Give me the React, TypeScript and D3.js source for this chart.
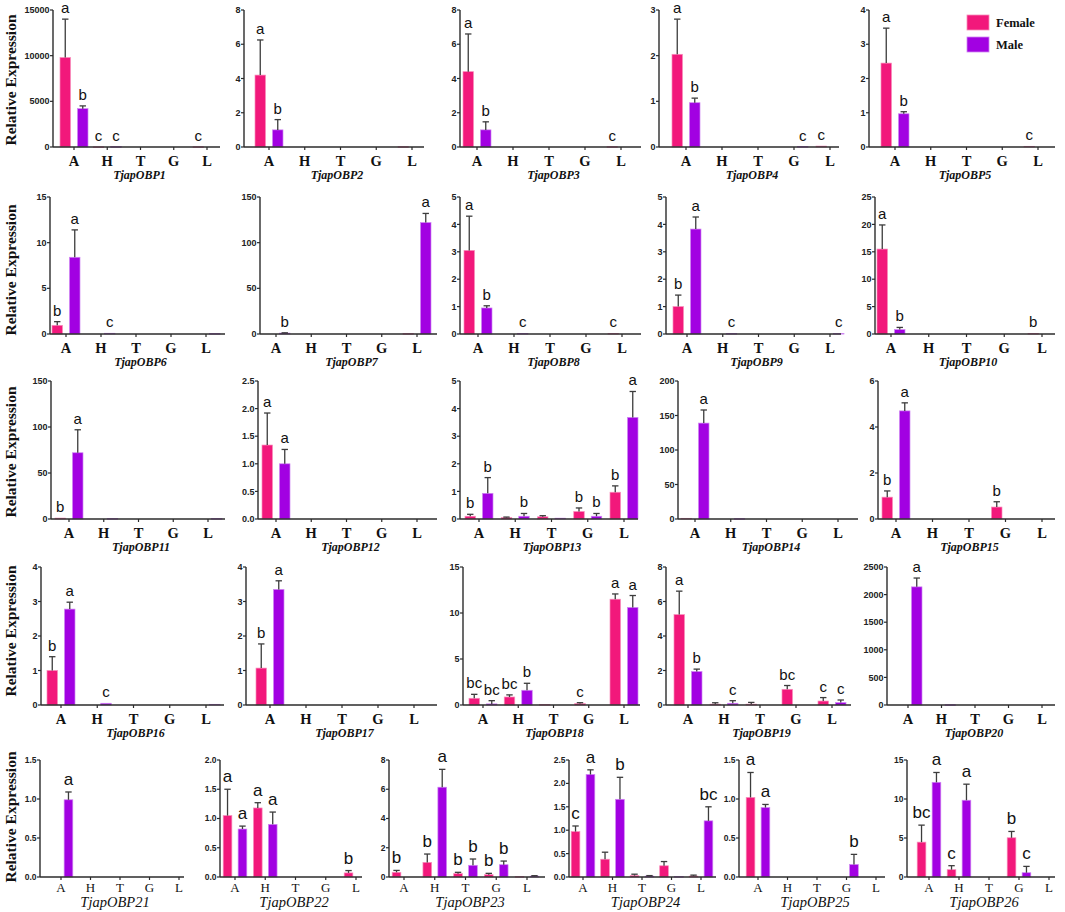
import React from 'react';
import * as d3 from 'd3';

// --- data ---
const TISSUES = ['A', 'H', 'T', 'G', 'L'];
const SEXES = ['Female', 'Male'];

const GENES = [
  'TjapOBP1', 'TjapOBP2', 'TjapOBP3', 'TjapOBP4', 'TjapOBP5',
  'TjapOBP6', 'TjapOBP7', 'TjapOBP8', 'TjapOBP9', 'TjapOBP10',
  'TjapOBP11', 'TjapOBP12', 'TjapOBP13', 'TjapOBP14', 'TjapOBP15',
  'TjapOBP16', 'TjapOBP17', 'TjapOBP18', 'TjapOBP19', 'TjapOBP20',
  'TjapOBP21', 'TjapOBP22', 'TjapOBP23', 'TjapOBP24', 'TjapOBP25', 'TjapOBP26',
];

const Y_TICKS = [
  [0, 5000, 10000, 15000], [0, 2, 4, 6, 8], [0, 2, 4, 6, 8], [0, 1, 2, 3], [0, 1, 2, 3, 4],
  [0, 5, 10, 15], [0, 50, 100, 150], [0, 1, 2, 3, 4, 5], [0, 1, 2, 3, 4, 5], [0, 5, 10, 15, 20, 25],
  [0, 50, 100, 150], [0, 0.5, 1, 1.5, 2, 2.5], [0, 1, 2, 3, 4, 5], [0, 50, 100, 150, 200], [0, 2, 4, 6],
  [0, 1, 2, 3, 4], [0, 1, 2, 3, 4], [0, 5, 10, 15], [0, 2, 4, 6, 8], [0, 500, 1000, 1500, 2000, 2500],
  [0, 0.5, 1, 1.5], [0, 0.5, 1, 1.5, 2], [0, 2, 4, 6, 8], [0, 0.5, 1, 1.5, 2, 2.5], [0, 0.5, 1, 1.5], [0, 5, 10, 15],
];

// values per tissue A, H, T, G, L
const FEMALE = [
  [9800, 20, 0, 0, 30], [4.2, 0, 0, 0, 0.02], [4.4, 0, 0, 0, 0.02], [2.03, 0, 0, 0, 0.02], [2.45, 0, 0, 0, 0.02],
  [0.95, 0, 0, 0, 0], [0, 0, 0, 0, 0.5], [3.05, 0, 0, 0, 0.02], [1.0, 0, 0, 0, 0], [15.5, 0, 0, 0, 0.1],
  [1, 0, 0, 0, 0], [1.34, 0, 0, 0, 0], [0.1, 0.05, 0.08, 0.27, 0.97], [1, 0, 0, 0, 0], [0.95, 0, 0, 0.52, 0],
  [1.0, 0, 0, 0, 0], [1.07, 0, 0, 0, 0], [0.73, 0.87, 0.05, 0.15, 11.5], [5.24, 0.05, 0.05, 0.91, 0.23], [0, 0, 0, 0, 0],
  [0, 0, 0, 0, 0], [1.05, 1.18, 0, 0, 0.07], [0.32, 1.0, 0.23, 0.16, 0.03], [0.97, 0.38, 0.03, 0.24, 0.02], [1.02, 0, 0, 0, 0], [4.47, 0.94, 0, 5.03, 0],
];
const FEMALE_SD = [
  [4200, 0, 0, 0, 0], [2.05, 0, 0, 0, 0], [2.2, 0, 0, 0, 0], [0.77, 0, 0, 0, 0], [1.02, 0, 0, 0, 0],
  [0.4, 0, 0, 0, 0], [0, 0, 0, 0, 0], [1.25, 0, 0, 0, 0], [0.42, 0, 0, 0, 0], [4.4, 0, 0, 0, 0],
  [0, 0, 0, 0, 0], [0.58, 0, 0, 0, 0], [0.07, 0.02, 0.04, 0.13, 0.23], [0, 0, 0, 0, 0], [0.27, 0, 0, 0.23, 0],
  [0.4, 0, 0, 0, 0], [0.7, 0, 0, 0, 0], [0.43, 0.23, 0, 0.1, 0.57], [1.36, 0.08, 0.1, 0.22, 0.2], [0, 0, 0, 0, 0],
  [0, 0, 0, 0, 0], [0.45, 0.09, 0, 0, 0.04], [0.13, 0.57, 0.09, 0.09, 0], [0.12, 0.15, 0.03, 0.09, 0.02], [0.32, 0, 0, 0, 0], [2.18, 0.51, 0, 0.81, 0],
];
const MALE = [
  [4200, 40, 0, 0, 0], [1.0, 0, 0, 0, 0], [1.0, 0, 0, 0, 0], [0.97, 0, 0, 0.01, 0], [0.97, 0, 0, 0, 0],
  [8.4, 0.08, 0, 0, 0.05], [1.0, 0, 0, 0, 122], [0.95, 0.02, 0, 0, 0], [3.83, 0.02, 0, 0, 0.02], [0.8, 0, 0, 0, 0],
  [72, 0.5, 0, 0, 0.5], [1.0, 0, 0, 0, 0], [0.93, 0.1, 0.03, 0.1, 3.68], [139, 0.5, 0, 0, 0], [4.7, 0, 0, 0, 0],
  [2.78, 0.05, 0, 0, 0.02], [3.35, 0, 0, 0, 0], [0.12, 1.6, 0, 0, 10.6], [1.94, 0.1, 0, 0, 0.14], [2140, 5, 0, 0, 0],
  [0.99, 0, 0, 0, 0], [0.82, 0.9, 0, 0, 0], [0, 6.14, 0.8, 0.84, 0.06], [2.19, 1.66, 0.02, 0.01, 1.2], [0.89, 0, 0, 0.16, 0], [12.14, 9.84, 0, 0.55, 0],
];
const MALE_SD = [
  [300, 0, 0, 0, 0], [0.6, 0, 0, 0, 0], [0.47, 0, 0, 0, 0], [0.1, 0, 0, 0, 0], [0.06, 0, 0, 0, 0],
  [3.0, 0, 0, 0, 0], [0.3, 0, 0, 0, 10], [0.08, 0, 0, 0, 0], [0.44, 0, 0, 0, 0], [0.4, 0, 0, 0, 0],
  [25, 0, 0, 0, 0], [0.26, 0, 0, 0, 0], [0.57, 0.1, 0, 0.1, 0.94], [19, 0, 0, 0, 0], [0.35, 0, 0, 0, 0],
  [0.2, 0, 0, 0, 0], [0.25, 0, 0, 0, 0], [0.35, 0.76, 0, 0, 1.3], [0.14, 0.15, 0, 0, 0.15], [160, 0, 0, 0, 0],
  [0.1, 0, 0, 0, 0], [0.05, 0.21, 0, 0, 0], [0, 1.22, 0.43, 0.25, 0.03], [0.1, 0.47, 0.01, 0, 0.3], [0.04, 0, 0, 0.13, 0], [1.26, 2.06, 0, 0.81, 0],
];
const FEMALE_LETTERS = [
  ['a', 'c', '', '', 'c'], ['a', '', '', '', ''], ['a', '', '', '', 'c'], ['a', '', '', '', 'c'], ['a', '', '', '', 'c'],
  ['b', '', '', '', ''], ['', '', '', '', ''], ['a', '', '', '', 'c'], ['b', '', '', '', ''], ['a', '', '', '', 'b'],
  ['b', '', '', '', ''], ['a', '', '', '', ''], ['b', '', '', 'b', 'b'], ['', '', '', '', ''], ['b', '', '', 'b', ''],
  ['b', '', '', '', ''], ['b', '', '', '', ''], ['bc', 'bc', '', 'c', 'a'], ['a', '', '', 'bc', 'c'], ['', '', '', '', ''],
  ['', '', '', '', ''], ['a', 'a', '', '', 'b'], ['b', 'b', 'b', 'b', ''], ['c', '', '', '', ''], ['a', '', '', '', ''], ['bc', 'c', '', 'b', ''],
];
const MALE_LETTERS = [
  ['b', 'c', '', '', ''], ['b', '', '', '', ''], ['b', '', '', '', ''], ['b', '', '', 'c', ''], ['b', '', '', '', ''],
  ['a', 'c', '', '', ''], ['b', '', '', '', 'a'], ['b', 'c', '', '', ''], ['a', 'c', '', '', 'c'], ['b', '', '', '', ''],
  ['a', '', '', '', ''], ['a', '', '', '', ''], ['b', 'b', '', 'b', 'a'], ['a', '', '', '', ''], ['a', '', '', '', ''],
  ['a', 'c', '', '', ''], ['a', '', '', '', ''], ['bc', 'b', '', '', 'a'], ['b', 'c', '', '', 'c'], ['a', '', '', '', ''],
  ['a', '', '', '', ''], ['a', 'a', '', '', ''], ['', 'a', 'b', 'b', ''], ['a', 'b', '', '', 'bc'], ['a', '', '', 'b', ''], ['a', 'a', '', 'c', ''],
];

// --- layout (pixel frames of each small panel) ---
const ROWS = [
  { yTop: 10, y0: 147, cy: 80 },
  { yTop: 197, y0: 334, cy: 270 },
  { yTop: 381, y0: 519, cy: 452 },
  { yTop: 567, y0: 705, cy: 631 },
  { yTop: 760, y0: 877, cy: 817 },
];
const FRAMES = [
  { x0: 53, x1: 220, c0: 74, c4: 207 }, { x0: 244, x1: 424, c0: 269, c4: 412 }, { x0: 460, x1: 641, c0: 477, c4: 621 },
  { x0: 659, x1: 839, c0: 686, c4: 830 }, { x0: 869, x1: 1055, c0: 895, c4: 1038 },
  { x0: 50, x1: 225, c0: 66, c4: 206 }, { x0: 260, x1: 437, c0: 276, c4: 417 }, { x0: 460, x1: 641, c0: 478, c4: 622 },
  { x0: 666, x1: 841, c0: 687, c4: 830 }, { x0: 875, x1: 1055, c0: 891, c4: 1042 },
  { x0: 51, x1: 225, c0: 69, c4: 208 }, { x0: 258, x1: 437, c0: 276, c4: 417 }, { x0: 460, x1: 638, c0: 479, c4: 624 },
  { x0: 678, x1: 858, c0: 695, c4: 838 }, { x0: 878, x1: 1055, c0: 896, c4: 1042 },
  { x0: 41, x1: 224, c0: 61, c4: 206 }, { x0: 246, x1: 437, c0: 270, c4: 414 }, { x0: 463, x1: 640, c0: 483, c4: 624 },
  { x0: 666, x1: 851, c0: 688, c4: 832 }, { x0: 887, x1: 1055, c0: 908, c4: 1042 },
  { x0: 40, x1: 184, c0: 61, c4: 179 }, { x0: 220, x1: 362, c0: 235, c4: 356 }, { x0: 389, x1: 545, c0: 404, c4: 527 },
  { x0: 569, x1: 716, c0: 583, c4: 701 }, { x0: 739, x1: 885, c0: 758, c4: 876 }, { x0: 907, x1: 1055, c0: 929, c4: 1049 },
];

const COLORS: Record<string, { fill: string; stroke: string }> = {
  Female: { fill: '#F2187B', stroke: '#F88DBB' },
  Male: { fill: '#A201E2', stroke: '#CF86F2' },
};
const AXIS = '#2b2b2b';
const ERR = '#3c3c3c';
const SERIF = "'Liberation Serif', 'Times New Roman', serif";
const SANS = "'Liberation Sans', Arial, sans-serif";
const NARROW = "'Liberation Sans Narrow', 'Arial Narrow', 'Liberation Sans', Arial, sans-serif";

function Panel({ i }: { i: number }) {
  const row = Math.min(4, Math.floor(i / 5));
  const small = row === 4;
  const { yTop, y0 } = ROWS[row];
  const f = FRAMES[i];
  const ticks = Y_TICKS[i];
  const maxY = ticks[ticks.length - 1];
  const decimals = ticks.some(t => !Number.isInteger(t));

  const x = d3.scalePoint<string>().domain(TISSUES).range([f.c0, f.c4]);
  const half = small ? 11.8 : 14;
  const sub = d3.scaleBand<string>().domain(SEXES).range([-half, half]).paddingInner(small ? 0.42 : 0.4);
  const y = d3.scaleLinear().domain([0, maxY]).range([y0, yTop]);

  const series = [
    { sex: 'Female', vals: FEMALE[i], sd: FEMALE_SD[i], letters: FEMALE_LETTERS[i] },
    { sex: 'Male', vals: MALE[i], sd: MALE_SD[i], letters: MALE_LETTERS[i] },
  ];
  const bw = sub.bandwidth();
  const cap = 3.2;

  return (
    <g>
      {/* bars */}
      {series.map(s =>
        TISSUES.map((t, k) => {
          const v = s.vals[k];
          if (v <= 0) return null;
          const left = (x(t) ?? 0) + (sub(s.sex) ?? 0);
          return (
            <rect key={s.sex + t} x={left} y={y(v)} width={bw} height={Math.max(0.6, y0 - y(v))}
              fill={COLORS[s.sex].fill} stroke={COLORS[s.sex].stroke} strokeWidth={0.7} />
          );
        })
      )}
      {/* error bars (upper only) */}
      {series.map(s =>
        TISSUES.map((t, k) => {
          const v = s.vals[k];
          const e = s.sd[k];
          if (e <= 0) return null;
          const cx = (x(t) ?? 0) + (sub(s.sex) ?? 0) + bw / 2;
          return (
            <g key={'e' + s.sex + t} stroke={ERR} strokeWidth={1.3}>
              <line x1={cx} x2={cx} y1={y(v)} y2={y(v + e)} />
              <line x1={cx - cap} x2={cx + cap} y1={y(v + e)} y2={y(v + e)} />
            </g>
          );
        })
      )}
      {/* significance letters */}
      {series.map(s =>
        TISSUES.map((t, k) => {
          const lab = s.letters[k];
          if (!lab) return null;
          const cx = (x(t) ?? 0) + (sub(s.sex) ?? 0) + bw / 2;
          return (
            <text key={'l' + s.sex + t} x={cx} y={y(s.vals[k] + s.sd[k]) - (small ? 7 : 6)}
              textAnchor="middle" fontFamily={SANS} fontSize={small ? 17 : 15} fill="#111">{lab}</text>
          );
        })
      )}
      {/* y axis */}
      <line x1={f.x0} x2={f.x0} y1={y0} y2={yTop} stroke={AXIS} strokeWidth={1.4} />
      {ticks.map(t => (
        <g key={'t' + t}>
          <line x1={f.x0 - 3} x2={f.x0} y1={y(t)} y2={y(t)} stroke={AXIS} strokeWidth={1.2} />
          <text x={f.x0 - 3.5} y={y(t)} dy="0.35em" textAnchor="end" fontFamily={NARROW}
            fontWeight="bold" fontSize={small ? 8.5 : 9} fill="#222">
            {decimals ? t.toFixed(1) : String(t)}
          </text>
        </g>
      ))}
      {/* x axis */}
      <line x1={f.x0} x2={f.x1} y1={y0} y2={y0} stroke={AXIS} strokeWidth={1.4} />
      {TISSUES.map(t => (
        <g key={'x' + t}>
          <line x1={x(t)} x2={x(t)} y1={y0} y2={y0 + 3} stroke={AXIS} strokeWidth={1.2} />
          <text x={x(t)} y={y0 + (small ? 15 : 18.5)} textAnchor="middle" fontFamily={SERIF}
            fontWeight={small ? 'normal' : 'bold'} fontSize={small ? 13 : 14.5} fill="#111">{t}</text>
        </g>
      ))}
      <text x={(f.x0 + f.x1) / 2 + 3} y={y0 + (small ? 30 : 32)} textAnchor="middle" fontFamily={SERIF}
        fontStyle="italic" fontWeight={small ? 'normal' : 'bold'} fontSize={small ? 14.5 : 12} fill="#111">
        {GENES[i]}
      </text>
    </g>
  );
}

function Legend() {
  const items = SEXES.map((s, k) => ({ s, y: 15 + k * 22 }));
  return (
    <g>
      {items.map(it => (
        <g key={it.s}>
          <rect x={967} y={it.y} width={22} height={15} fill={COLORS[it.s].fill}
            stroke={COLORS[it.s].stroke} strokeWidth={0.8} />
          <text x={996} y={it.y + 12} fontFamily={SERIF} fontWeight="bold" fontSize={12.5} fill="#111">{it.s}</text>
        </g>
      ))}
    </g>
  );
}

export default function App() {
  return (
    <svg width={1065} height={912} style={{ position: 'absolute', left: 0, top: 0 }}>
      <rect width={1065} height={912} fill="#fff" />
      {ROWS.map((r, k) => (
        <text key={k} x={15.5} y={r.cy} transform={`rotate(-90, 15.5, ${r.cy})`} textAnchor="middle"
          fontFamily={SERIF} fontWeight="bold" fontSize={15.5} fill="#111">Relative Expression</text>
      ))}
      {GENES.map((g, i) => <Panel key={g} i={i} />)}
      <Legend />
    </svg>
  );
}
